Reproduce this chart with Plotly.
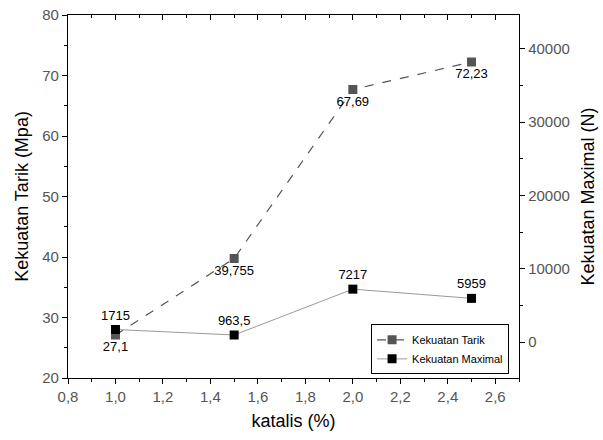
import plotly.graph_objects as go

katalis = [1.0, 1.5, 2.0, 2.5]
tarik = [27.1, 39.755, 67.69, 72.23]
maximal = [1715, 963.5, 7217, 5959]

def fmt(v):
    s = f"{v:g}"
    return s.replace(".", ",")

FONT = "Liberation Sans, Arial, sans-serif"

fig = go.Figure()
fig.add_trace(go.Scatter(
    x=katalis, y=tarik, name="Kekuatan Tarik",
    mode="lines+markers+text",
    line=dict(color="#555555", width=1.2, dash="dash"),
    marker=dict(symbol="square", size=9, color="#555555"),
    text=[fmt(v) for v in tarik], textposition="bottom center",
    textfont=dict(size=13, color="black", family=FONT),
    xaxis="x", yaxis="y",
))
fig.add_trace(go.Scatter(
    x=katalis, y=maximal, name="Kekuatan Maximal",
    mode="lines+markers+text",
    line=dict(color="#999999", width=1),
    marker=dict(symbol="square", size=9, color="black"),
    text=[fmt(v) for v in maximal], textposition="top center",
    textfont=dict(size=13, color="black", family=FONT),
    xaxis="x", yaxis="y2",
))
# empty helper trace so that the top (mirrored, inward-ticked) axis is drawn
fig.add_trace(go.Scatter(x=[None], y=[None], xaxis="x2", yaxis="y",
                         showlegend=False, hoverinfo="skip"))

axis_common = dict(showgrid=False, zeroline=False, showline=True,
                   linecolor="black", linewidth=1.3,
                   tickcolor="black", tickwidth=1.2, automargin=False,
                   tickfont=dict(size=15, color="#555555", family=FONT))

fig.update_layout(
    width=603, height=440,
    margin=dict(l=68, r=84, t=15, b=62),
    paper_bgcolor="white", plot_bgcolor="white",
    separators=",",
    font=dict(family=FONT, color="black"),
    showlegend=True,
    xaxis=dict(range=[0.8, 2.7], dtick=0.2, tick0=0.8, ticks="outside", ticklen=5,
               tickformat=".1f",
               minor=dict(dtick=0.1, ticks="outside", ticklen=3, tickcolor="black"),
               title=dict(text="katalis (%)", font=dict(size=18, family=FONT), standoff=10),
               **axis_common),
    xaxis2=dict(range=[0.8, 2.7], dtick=0.2, tick0=0.8, ticks="inside", ticklen=5,
                minor=dict(dtick=0.1, ticks="inside", ticklen=3, tickcolor="black"),
                overlaying="x", side="top", anchor="y", showticklabels=False,
                **axis_common),
    yaxis=dict(range=[20, 80], dtick=10, ticks="outside", ticklen=5,
               minor=dict(dtick=5, ticks="outside", ticklen=3, tickcolor="black"),
               title=dict(text="Kekuatan Tarik (Mpa)", font=dict(size=18, family=FONT), standoff=8),
               **axis_common),
    yaxis2=dict(range=[-4900, 44600], dtick=10000, tick0=0, ticks="outside", ticklen=5,
                minor=dict(dtick=5000, ticks="outside", ticklen=3, tickcolor="black"),
                overlaying="y", side="right", anchor="x", exponentformat="none",
                title=dict(text="Kekuatan Maximal (N)", font=dict(size=18, family=FONT), standoff=12),
                **axis_common),
    legend=dict(x=0.978, y=0.01, xanchor="right", yanchor="bottom",
                bordercolor="black", borderwidth=1, bgcolor="white",
                font=dict(size=11, family=FONT), tracegroupgap=0,
                itemwidth=30),
)

fig.write_html("out.html", config={"displayModeBar": False},
               post_script="document.body.style.margin='0';document.body.style.overflow='hidden';")
